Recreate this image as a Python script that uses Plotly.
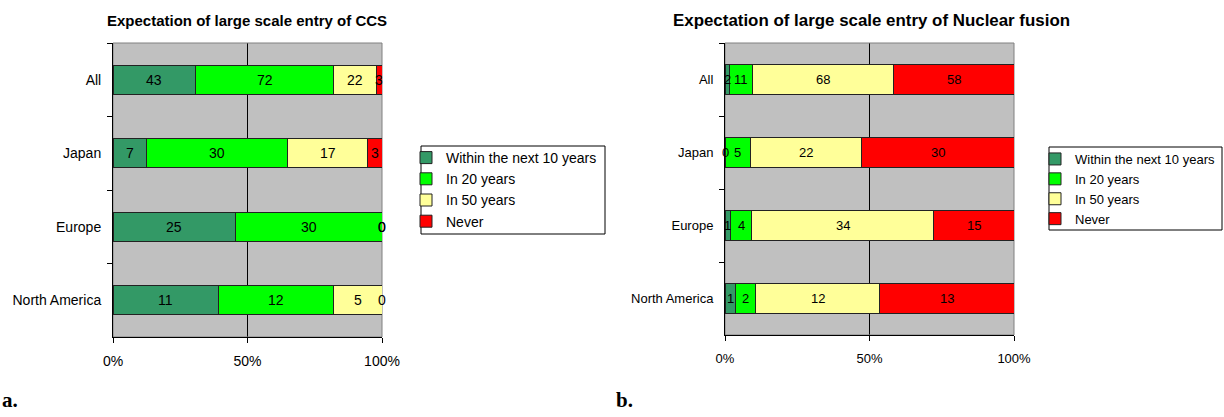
import plotly.graph_objects as go

categories = ["All", "Japan", "Europe", "North America"]
series_names = ["Within the next 10 years", "In 20 years", "In 50 years", "Never"]
colors = ["#339966", "#00FF00", "#FFFF99", "#FF0000"]

ccs_10 = [43, 7, 25, 11]
ccs_20 = [72, 30, 30, 12]
ccs_50 = [22, 17, 0, 5]
ccs_never = [3, 3, 0, 0]

fus_10 = [2, 0, 1, 1]
fus_20 = [11, 5, 4, 2]
fus_50 = [68, 22, 34, 12]
fus_never = [58, 30, 15, 13]

x_ticks = [0, 50, 100]
x_ticktext = ["0%", "50%", "100%"]

FONT = "Liberation Sans, Arial, sans-serif"
SERIF = "Liberation Serif, Times New Roman, serif"
W, H = 1224, 417


def px(x):
    return x / W


def py(y):
    return 1 - y / H


fig = go.Figure()

charts = [
    dict(data=[ccs_10, ccs_20, ccs_50, ccs_never], xa="x", ya="y", legend="legend", fs=14),
    dict(data=[fus_10, fus_20, fus_50, fus_never], xa="x2", ya="y2", legend="legend2", fs=13),
]

for ch in charts:
    for name, col, vals in zip(series_names, colors, ch["data"]):
        fig.add_trace(go.Bar(
            y=categories, x=vals, orientation="h", name=name,
            marker=dict(color=col, line=dict(color="#222222", width=1)),
            xaxis=ch["xa"], yaxis=ch["ya"], legend=ch["legend"],
            hoverinfo="skip",
        ))
    # value labels, centred in each (percent-normalised) segment
    for i, cat in enumerate(categories):
        total = sum(series[i] for series in ch["data"])
        cum = 0.0
        for series in ch["data"]:
            pct = series[i] / total * 100
            fig.add_annotation(
                x=cum + pct / 2, y=cat, xref=ch["xa"], yref=ch["ya"],
                text=str(series[i]), showarrow=False,
                xanchor="center", yanchor="middle",
                font=dict(family=FONT, size=ch["fs"], color="black"),
            )
            cum += pct

xdom1 = [px(113), px(382)]
xdom2 = [px(725), px(1014)]
ydom1 = [py(337), py(43)]
ydom2 = [py(335), py(43)]

xcommon = dict(range=[0, 100], tickvals=x_ticks, ticktext=x_ticktext,
               showgrid=False, zeroline=False, showline=True, linecolor="black",
               linewidth=1, ticks="outside", ticklen=5, tickcolor="black",
               ticklabelstandoff=6, fixedrange=True, automargin=False)
ycommon = dict(autorange=False, range=[3.5, -0.5], type="category",
               categoryorder="array", categoryarray=categories,
               showgrid=False, zeroline=False, showline=True, linecolor="black",
               linewidth=1, ticks="outside", ticklen=5, tickcolor="black",
               tickson="boundaries", ticklabelstandoff=8,
               fixedrange=True, automargin=False)

fig.update_layout(
    width=W, height=H,
    margin=dict(l=0, r=0, t=0, b=0, autoexpand=False),
    paper_bgcolor="white", plot_bgcolor="#C0C0C0",
    barmode="stack", barnorm="percent", bargap=0.6,
    font=dict(family=FONT, color="black"),
    xaxis=dict(domain=xdom1, anchor="y", tickfont=dict(size=14), **xcommon),
    yaxis=dict(domain=ydom1, anchor="x", tickfont=dict(size=14), **ycommon),
    xaxis2=dict(domain=xdom2, anchor="y2", tickfont=dict(size=13), **xcommon),
    yaxis2=dict(domain=ydom2, anchor="x2", tickfont=dict(size=13), **ycommon),
    legend=dict(x=px(406), y=py(142), xanchor="left", yanchor="top",
                bgcolor="rgba(0,0,0,0)", borderwidth=0,
                font=dict(family=FONT, size=14), traceorder="normal",
                itemclick=False, itemdoubleclick=False, tracegroupgap=0),
    legend2=dict(x=px(1035), y=py(144), xanchor="left", yanchor="top",
                 bgcolor="rgba(0,0,0,0)", borderwidth=0,
                 font=dict(family=FONT, size=13), traceorder="normal",
                 itemclick=False, itemdoubleclick=False, tracegroupgap=0),
    showlegend=True,
)

# 50% gridline and gray plot-area frame
for xa, ya in [("x", "y"), ("x2", "y2")]:
    fig.add_shape(type="line", xref=xa, yref=f"{ya} domain", x0=50, x1=50, y0=0, y1=1,
                  line=dict(color="black", width=1), layer="below")
    fig.add_shape(type="rect", xref=f"{xa} domain", yref=f"{ya} domain", x0=0, x1=1, y0=0, y1=1,
                  line=dict(color="#808080", width=1), layer="below")

# legend frames
fig.add_shape(type="rect", xref="paper", yref="paper", x0=px(421), x1=px(605), y0=py(234), y1=py(146),
              line=dict(color="black", width=1), fillcolor="rgba(0,0,0,0)", layer="below")
fig.add_shape(type="rect", xref="paper", yref="paper", x0=px(1049), x1=px(1222), y0=py(230), y1=py(147),
              line=dict(color="black", width=1), fillcolor="rgba(0,0,0,0)", layer="below")

fig.add_annotation(text="<b>Expectation of large scale entry of CCS</b>",
                   xref="paper", yref="paper", x=px(247), y=py(20),
                   xanchor="center", yanchor="middle", showarrow=False,
                   font=dict(family=FONT, size=15, color="black"))
fig.add_annotation(text="<b>Expectation of large scale entry of Nuclear fusion</b>",
                   xref="paper", yref="paper", x=px(871), y=py(20),
                   xanchor="center", yanchor="middle", showarrow=False,
                   font=dict(family=FONT, size=16.9, color="black"))
fig.add_annotation(text="<b>a.</b>", xref="paper", yref="paper", x=0, y=py(400),
                   xanchor="left", yanchor="middle", showarrow=False,
                   font=dict(family=SERIF, size=21, color="black"))
fig.add_annotation(text="<b>b.</b>", xref="paper", yref="paper", x=px(614), y=py(400),
                   xanchor="left", yanchor="middle", showarrow=False,
                   font=dict(family=SERIF, size=21, color="black"))

fig.write_html("out.html", config={"displayModeBar": False},
               post_script="document.body.style.margin='0';document.body.style.overflow='hidden';")
